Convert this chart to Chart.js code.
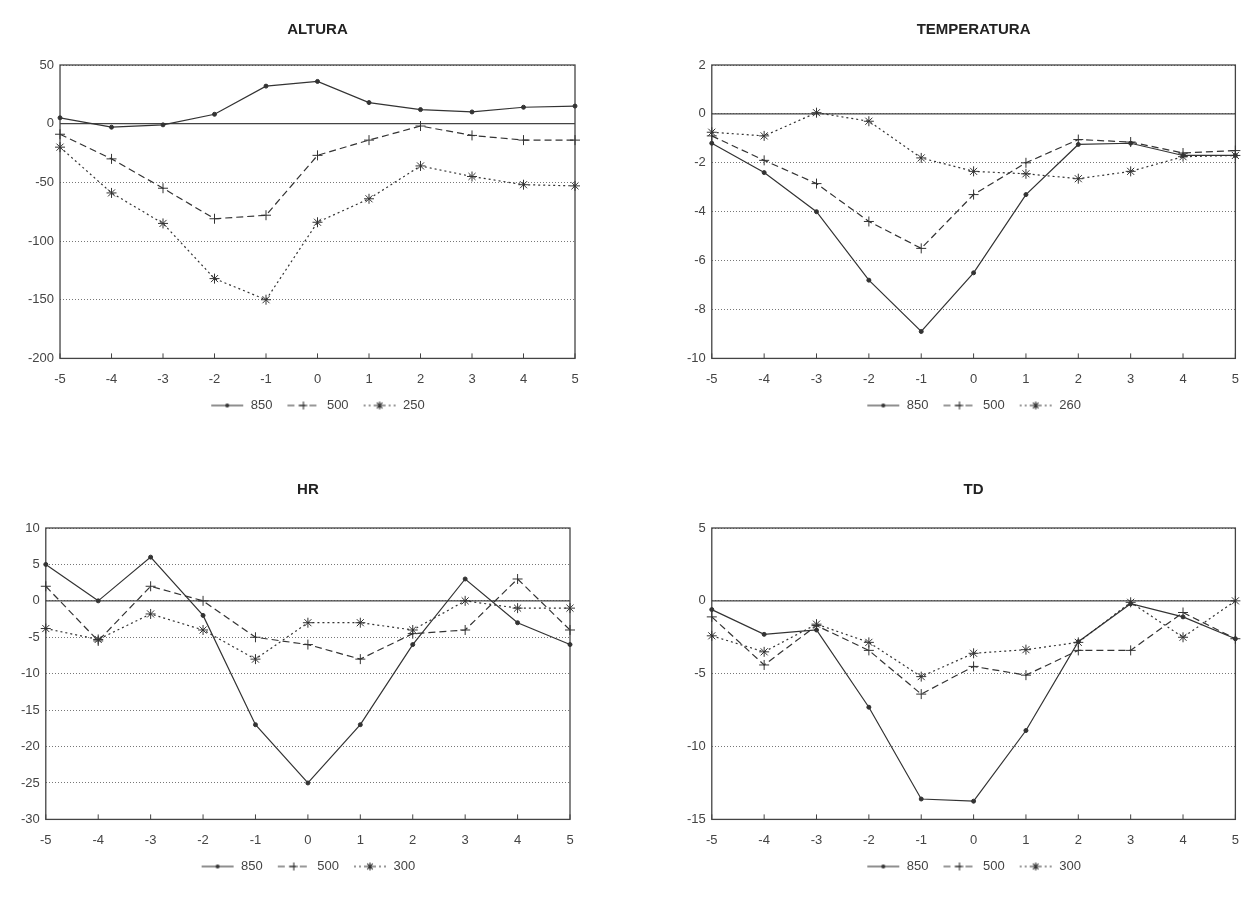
<!DOCTYPE html>
<html>
<head>
<meta charset="utf-8">
<script src="https://cdn.jsdelivr.net/npm/chart.js@4.4.1/dist/chart.umd.min.js"></script>
<style>
  body { margin: 0; background: #fff; width: 1244px; height: 903px; position: relative; overflow: hidden; }
  .panel { position: absolute; }
</style>
</head>
<body>
<div class="panel" style="left:0px;top:12px;width:600px;height:410px"><canvas id="altura"></canvas></div>
<div class="panel" style="left:640px;top:12px;width:604px;height:410px"><canvas id="temperatura"></canvas></div>
<div class="panel" style="left:0px;top:472px;width:590px;height:411px"><canvas id="hr"></canvas></div>
<div class="panel" style="left:640px;top:472px;width:604px;height:411px"><canvas id="td"></canvas></div>
<script>
// time steps (x axis)
const steps = ['-5', '-4', '-3', '-2', '-1', '0', '1', '2', '3', '4', '5'];

// ALTURA
const alturaLevels = ['850', '500', '250'];
const altura850 = [5, -3, -1, 8, 32, 36, 18, 12, 10, 14, 15];
const altura500 = [-9, -30, -55, -81, -78, -27, -14, -2, -10, -14, -14];
const altura250 = [-20, -59, -85, -132, -150, -84, -64, -36, -45, -52, -53];

// TEMPERATURA
const tempLevels = ['850', '500', '260'];
const temp850 = [-1.2, -2.4, -4.0, -6.8, -8.9, -6.5, -3.3, -1.25, -1.2, -1.7, -1.7];
const temp500 = [-0.9, -1.9, -2.85, -4.4, -5.5, -3.3, -2.0, -1.05, -1.15, -1.6, -1.5];
const temp260 = [-0.75, -0.9, 0.05, -0.3, -1.8, -2.35, -2.45, -2.65, -2.35, -1.75, -1.7];

// HR
const hrLevels = ['850', '500', '300'];
const hr850 = [5, 0, 6, -2, -17, -25, -17, -6, 3, -3, -6];
const hr500 = [2, -5.5, 2, 0, -5, -6, -8, -4.5, -4, 3, -4];
const hr300 = [-3.8, -5.3, -1.8, -4, -8, -3, -3, -4, 0, -1, -1];

// TD
const tdLevels = ['850', '500', '300'];
const td850 = [-0.6, -2.3, -2.0, -7.3, -13.6, -13.75, -8.9, -2.8, -0.2, -1.1, -2.6];
const td500 = [-1.1, -4.4, -1.7, -3.4, -6.4, -4.5, -5.1, -3.4, -3.4, -0.8, -2.6];
const td300 = [-2.4, -3.5, -1.6, -2.85, -5.2, -3.6, -3.35, -2.85, -0.1, -2.5, 0];

const INK = '#333';
const FONT = "'Liberation Sans', Arial, sans-serif";

// line / marker style per level (solid dot, dashed plus, dotted star)
const styles = [
  { dash: [], marker: 'circle', radius: 2 },
  { dash: [7, 4], marker: 'cross', radius: 5 },
  { dash: [2, 3], marker: 'star', radius: 5 }
];

function legendIcon(style) {
  const c = document.createElement('canvas');
  c.width = 34; c.height = 12;
  const g = c.getContext('2d');
  g.strokeStyle = INK; g.fillStyle = INK; g.lineWidth = 1.1;
  g.setLineDash(style.dash);
  g.beginPath(); g.moveTo(1, 6); g.lineTo(33, 6); g.stroke();
  g.setLineDash([]);
  const r = style.radius - 1;
  g.beginPath();
  if (style.marker === 'circle') {
    g.arc(17, 6, 2, 0, Math.PI * 2); g.fill();
  } else {
    g.moveTo(17 - r, 6); g.lineTo(17 + r, 6);
    g.moveTo(17, 6 - r); g.lineTo(17, 6 + r);
    if (style.marker === 'star') {
      const d = r * 0.7;
      g.moveTo(17 - d, 6 - d); g.lineTo(17 + d, 6 + d);
      g.moveTo(17 - d, 6 + d); g.lineTo(17 + d, 6 - d);
    }
    g.stroke();
  }
  return c;
}

// frame box, solid zero line and inward x ticks
const frame = {
  id: 'frame',
  beforeDatasetsDraw(chart) {
    const { ctx, chartArea: a, scales: { x, y } } = chart;
    ctx.save();
    ctx.strokeStyle = '#444';
    ctx.lineWidth = 1.3;
    ctx.strokeRect(a.left, a.top, a.right - a.left, a.bottom - a.top);
    const y0 = y.getPixelForValue(0);
    ctx.beginPath(); ctx.moveTo(a.left, y0); ctx.lineTo(a.right, y0); ctx.stroke();
    ctx.lineWidth = 1;
    ctx.beginPath();
    x.ticks.forEach((t, i) => {
      const px = x.getPixelForTick(i);
      ctx.moveTo(px, a.bottom); ctx.lineTo(px, a.bottom - 5);
    });
    ctx.stroke();
    ctx.restore();
  }
};

function makeChart(id, title, levels, series, yMin, yMax, yStep, pad) {
  new Chart(document.getElementById(id), {
    type: 'line',
    data: {
      labels: steps,
      datasets: series.map((vals, i) => ({
        label: levels[i],
        data: vals,
        borderColor: INK,
        backgroundColor: INK,
        borderWidth: 1.2,
        borderDash: styles[i].dash,
        pointStyle: styles[i].marker,
        pointRadius: styles[i].radius,
        pointBorderWidth: 1,
        pointBorderColor: INK,
        pointBackgroundColor: INK,
        tension: 0,
        fill: false
      }))
    },
    options: {
      responsive: true,
      maintainAspectRatio: false,
      animation: false,
      layout: { padding: { left: pad.left, right: pad.right } },
      scales: {
        x: {
          offset: false,
          clip: false,
          grid: { display: false },
          border: { display: false },
          ticks: { color: '#444', font: { family: FONT, size: 13 }, padding: 5, maxRotation: 0, autoSkip: false },
          afterFit: (scale) => { scale.height -= 7; }
        },
        y: {
          min: yMin,
          max: yMax,
          grid: { color: '#777', lineWidth: 1, drawTicks: false },
          border: { display: false, dash: [1, 2] },
          ticks: { stepSize: yStep, color: '#444', font: { family: FONT, size: 13 }, padding: 6 }
        }
      },
      plugins: {
        title: {
          display: true,
          text: title,
          fullSize: false,
          color: '#222',
          font: { family: FONT, size: 15, weight: 'bold' },
          padding: { top: 9, bottom: pad.title }
        },
        legend: {
          position: 'bottom',
          fullSize: false,
          labels: {
            color: '#444',
            font: { family: FONT, size: 13 },
            usePointStyle: true,
            pointStyleWidth: 34,
            padding: 14,
            generateLabels: (chart) => chart.data.datasets.map((ds, i) => ({
              text: ds.label,
              pointStyle: legendIcon(styles[i]),
              fillStyle: INK,
              strokeStyle: INK,
              lineWidth: 0,
              hidden: false,
              datasetIndex: i,
              fontColor: '#444'
            }))
          }
        },
        tooltip: { enabled: false }
      }
    },
    plugins: [frame]
  });
}

makeChart('altura', 'ALTURA', alturaLevels, [altura850, altura500, altura250], -200, 50, 50, { left: 22, right: 25, title: 26 });
makeChart('temperatura', 'TEMPERATURA', tempLevels, [temp850, temp500, temp260], -10, 2, 2, { left: 41, right: 0, title: 26 });
makeChart('hr', 'HR', hrLevels, [hr850, hr500, hr300], -30, 10, 5, { left: 15, right: 20, title: 29 });
makeChart('td', 'TD', tdLevels, [td850, td500, td300], -15, 5, 5, { left: 41, right: 0, title: 29 });
</script>
</body>
</html>
